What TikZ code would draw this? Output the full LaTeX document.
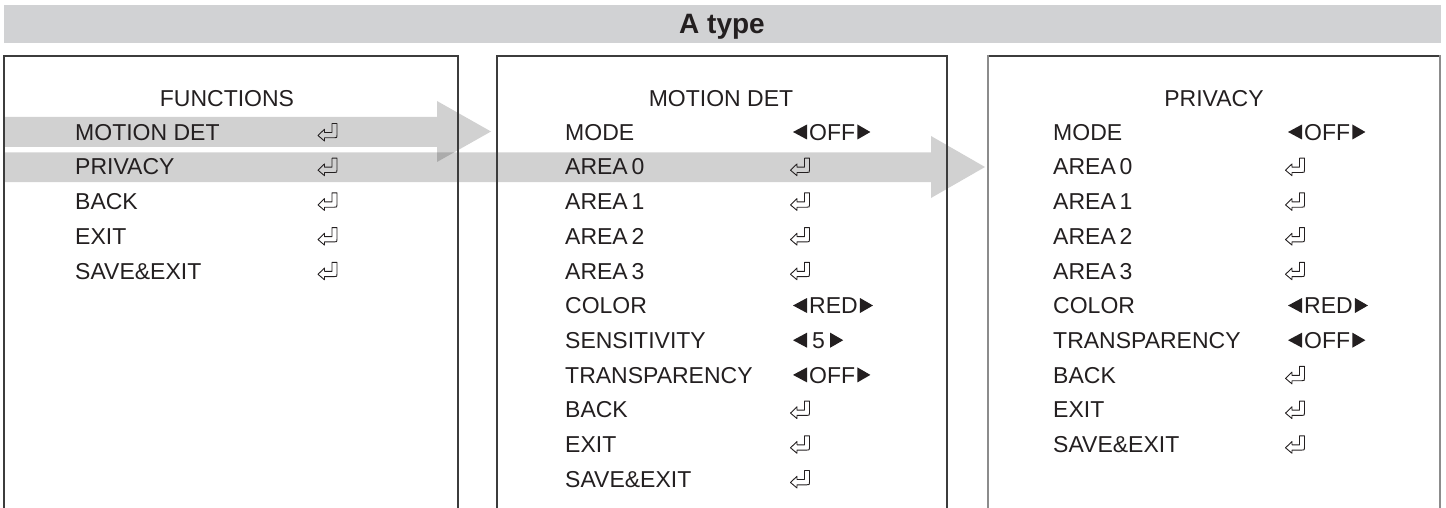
\documentclass[tikz,border=0pt]{standalone}
\usepackage{fontspec}
\setmainfont{Liberation Sans}
\definecolor{bar}{RGB}{209,210,212}
\definecolor{ln}{RGB}{60,60,60}
\definecolor{lnr}{RGB}{140,140,140}
\definecolor{ink}{RGB}{35,31,32}
\newcommand\valarrows[1]{%
  \fill[tri] ([shift={(0,-7.5)}]#1.west) -- ([shift={(0,7.5)}]#1.west) -- ([shift={(-14,0)}]#1.west) -- cycle;
  \fill[tri] ([shift={(0,-7.5)}]#1.east) -- ([shift={(0,7.5)}]#1.east) -- ([shift={(13,0)}]#1.east) -- cycle;}
\begin{document}
\begin{tikzpicture}[x=1pt,y=-1pt,
  item/.style={anchor=west,inner sep=0pt,text height=16.5pt,text depth=0pt,font=\fontsize{23}{25}\selectfont,text=ink},
  headtext/.style={item,anchor=center},
  val/.style={item,inner xsep=2pt},
  tri/.style={fill=ink},
  panel/.style={line width=1.3pt,draw=ln},
  flow/.style={fill=black,fill opacity=0.18},
  ret/.pic={\draw[line width=0.9pt,draw=ink,line join=round] (-10.5,3.5) -- (-4,-2.8) -- (-4,0.5) -- (3.5,0.5) -- (3.5,-8.5) -- (8.5,-8.5) -- (8.5,3) .. controls (8.5,5.8) .. (5.8,5.8) -- (-4,5.8) -- (-4,9) -- cycle;}
]
\useasboundingbox (0,0) rectangle (1446,508);
% title bar
\fill[bar] (4,5) rectangle (1441,43);
\node[font=\fontsize{28}{30}\selectfont\bfseries,text=ink,inner sep=0pt,anchor=base] (title) at (722,33.5) {A type};
% flow arrows
\fill[flow] (4,117) -- (437,117) -- (437,101) -- (491,131.5) -- (437,162) -- (437,147) -- (4,147) -- cycle;
\fill[flow] (4,152.5) -- (931,152.5) -- (931,136) -- (985,167) -- (931,198) -- (931,182) -- (4,182) -- cycle;
% panels
\draw[panel] (4,508) -- (4,56) -- (458,56) -- (458,508);
\draw[panel] (497,508) -- (497,56) -- (947,56) -- (947,508);
\draw[panel] (988,56) -- (1440,56);
\draw[line width=1.7pt,draw=lnr] (988,508) -- (988,55.5);
\draw[line width=1.7pt,draw=lnr] (1440,508) -- (1440,55.5);
% headers
\node[headtext] (fh) at (227,98) {FUNCTIONS};
\node[headtext] (mh) at (721,98) {MOTION DET};
\node[headtext] (ph) at (1214,98) {PRIVACY};
% left panel
\node[item] (l0) at (75,132) {MOTION DET};
\node[item] (l1) at (75,166.7) {PRIVACY};
\node[item] (l2) at (75,201.4) {BACK};
\node[item] (l3) at (75,236.1) {EXIT};
\node[item] (l4) at (75,270.8) {SAVE\&EXIT};
\foreach \y in {132,166.7,201.4,236.1,270.8} \pic at (328.5,\y) {ret};
% middle panel
\node[item] (m0) at (565,132) {MODE};
\node[item] (m1) at (565,166.7) {AREA\,0};
\node[item] (m2) at (565,201.4) {AREA\,1};
\node[item] (m3) at (565,236.1) {AREA\,2};
\node[item] (m4) at (565,270.8) {AREA\,3};
\node[item] (m5) at (565,305.5) {COLOR};
\node[item] (m6) at (565,340.2) {SENSITIVITY};
\node[item] (m7) at (565,374.9) {TRANSPARENCY};
\node[item] (m8) at (565,409.6) {BACK};
\node[item] (m9) at (565,444.3) {EXIT};
\node[item] (m10) at (565,479) {SAVE\&EXIT};
\node[val] (mv0) at (807,132) {OFF};
\node[val] (mv5) at (807,305.5) {RED};
\node[val,inner xsep=5pt] (mv6) at (807,340.2) {5};
\node[val] (mv7) at (807,374.9) {OFF};
\valarrows{mv0}\valarrows{mv5}\valarrows{mv6}\valarrows{mv7}
\foreach \y in {166.7,201.4,236.1,270.8,409.6,444.3,479} \pic at (801,\y) {ret};
% right panel
\node[item] (r0) at (1053,132) {MODE};
\node[item] (r1) at (1053,166.7) {AREA\,0};
\node[item] (r2) at (1053,201.4) {AREA\,1};
\node[item] (r3) at (1053,236.1) {AREA\,2};
\node[item] (r4) at (1053,270.8) {AREA\,3};
\node[item] (r5) at (1053,305.5) {COLOR};
\node[item] (r6) at (1053,340.2) {TRANSPARENCY};
\node[item] (r7) at (1053,374.9) {BACK};
\node[item] (r8) at (1053,409.6) {EXIT};
\node[item] (r9) at (1053,444.3) {SAVE\&EXIT};
\node[val] (rv0) at (1302,132) {OFF};
\node[val] (rv5) at (1302,305.5) {RED};
\node[val] (rv6) at (1302,340.2) {OFF};
\valarrows{rv0}\valarrows{rv5}\valarrows{rv6}
\foreach \y in {166.7,201.4,236.1,270.8,374.9,409.6,444.3} \pic at (1296,\y) {ret};
\end{tikzpicture}
\end{document}
